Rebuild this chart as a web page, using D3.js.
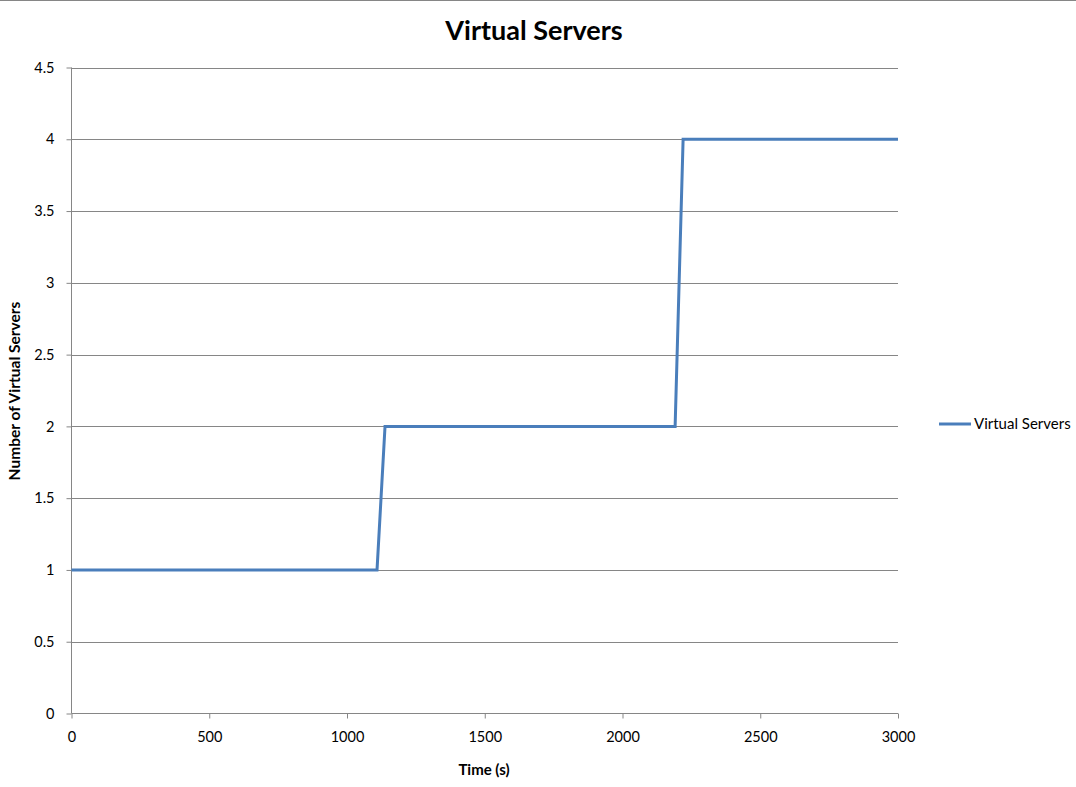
<!DOCTYPE html>
<html><head><meta charset="utf-8">
<script src="https://cdn.jsdelivr.net/npm/d3@7"></script>
<style>body{margin:0;background:#fff}svg{display:block}text{font-family:Lato,"Open Sans",sans-serif}</style>
</head><body><svg id="c" width="1076" height="787"></svg>
<script>
const times = [0, 1109, 1138, 2191, 2220, 3000];
const servers = [1, 1, 2, 2, 4, 4];
const xTicks = [0, 500, 1000, 1500, 2000, 2500, 3000];
const yTicks = [0, 0.5, 1, 1.5, 2, 2.5, 3, 3.5, 4, 4.5];
const seriesName = "Virtual Servers";

const svg = d3.select("#c");
const L = 71.5, R = 898, T = 67.5, B = 713.5;
const x = d3.scaleLinear().domain([0, 3000]).range([L, R]);
const y = d3.scaleLinear().domain([0, 4.5]).range([B, T]);
const grey = "#868686";

svg.append("line").attr("x1",0).attr("x2",1076).attr("y1",0.5).attr("y2",0.5).attr("stroke",grey);

svg.append("g").selectAll("line").data(yTicks.filter(d=>d>0)).join("line")
  .attr("x1",L).attr("x2",R).attr("y1",d=>Math.round(y(d))+0.5).attr("y2",d=>Math.round(y(d))+0.5)
  .attr("stroke",grey).attr("stroke-width",1);

const yAxis = svg.append("g").attr("transform",`translate(${L},0)`)
  .call(d3.axisLeft(y).tickValues(yTicks).tickSize(5).tickPadding(12).tickFormat(d3.format("")));
const xAxis = svg.append("g").attr("transform",`translate(0,${B})`)
  .call(d3.axisBottom(x).tickValues(xTicks).tickSize(5).tickPadding(13).tickFormat(d3.format("")));
[yAxis,xAxis].forEach(a=>{
  a.select(".domain").attr("stroke",grey);
  a.selectAll(".tick line").attr("stroke",grey);
  a.selectAll("text").attr("font-size",14.5).attr("fill","#000").attr("font-family","Lato, 'Open Sans', sans-serif");
});
yAxis.selectAll(".domain").attr("d",`M0,${T}V${B}`);
xAxis.selectAll(".domain").attr("d",`M${L},0H${R}`);

const line = d3.line().x((d,i)=>x(times[i])).y(d=>y(d));
svg.append("path").datum(servers).attr("d",line).attr("fill","none")
  .attr("stroke","#4a7ebb").attr("stroke-width",3).attr("stroke-linejoin","miter");

svg.append("text").attr("x",534).attr("y",40).attr("text-anchor","middle")
  .attr("font-size",27).attr("font-weight","bold").text("Virtual Servers");
svg.append("text").attr("x",484).attr("y",775).attr("text-anchor","middle")
  .attr("font-size",15).attr("font-weight","bold").text("Time (s)");
svg.append("text").attr("transform","translate(20,391) rotate(-90)").attr("text-anchor","middle")
  .attr("font-size",15.5).attr("font-weight","bold").text("Number of Virtual Servers");

svg.append("line").attr("x1",939).attr("x2",971).attr("y1",424).attr("y2",424)
  .attr("stroke","#4a7ebb").attr("stroke-width",3);
svg.append("text").attr("x",974).attr("y",429).attr("font-size",15).text(seriesName);
</script></body></html>
